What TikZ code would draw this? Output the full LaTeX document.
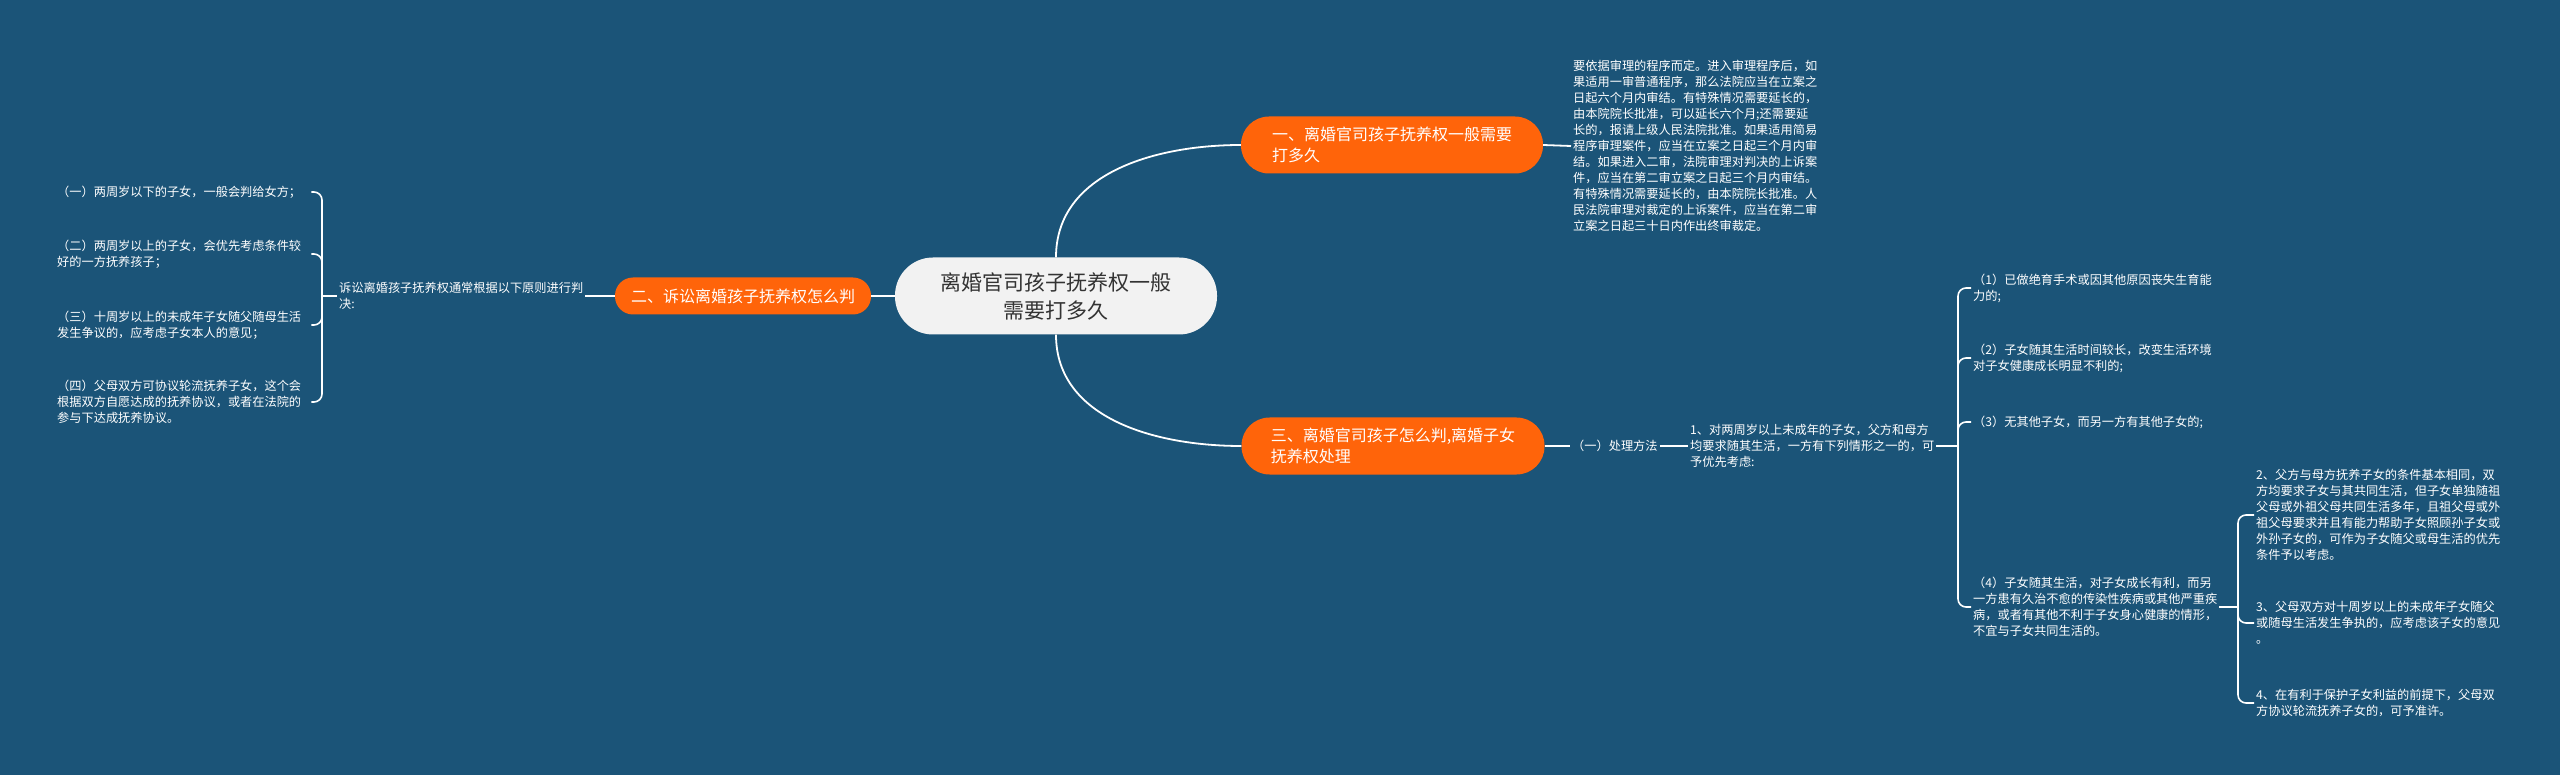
\documentclass[tikz,border=0pt]{standalone}
\usepackage{fontspec}
\setmainfont{Noto Sans CJK SC}
\definecolor{bgblue}{HTML}{1B5478}
\definecolor{mmorange}{HTML}{FF640A}
\definecolor{rootgrey}{HTML}{F2F2F2}
\definecolor{roottext}{HTML}{333333}
\begin{document}
\begin{tikzpicture}[x=1pt,y=-1pt,
    link/.style={draw=white,line width=1.8pt},
    brace/.style={draw=white,line width=1.6pt,rounded corners=8pt},
    rootnode/.style={fill=rootgrey,text=roottext,rounded corners=38pt,minimum width=322pt,minimum height=77pt,align=center,font=\fontsize{21}{28}\selectfont},
    topic/.style={fill=mmorange,text=white,rounded corners=28pt,minimum height=57pt,align=left,font=\fontsize{16}{21}\selectfont},
    leaf/.style={text=white,inner sep=2pt,align=left,font=\fontsize{12.2}{16}\selectfont},
  ]
  \fill[bgblue] (0,0) rectangle (2560,775);
  \useasboundingbox (0,0) rectangle (2560,775);
  %% centre
  \node[rootnode] (root) at (1056,296) {离婚官司孩子抚养权一般\\需要打多久};
  %% first topic
  \node[topic,minimum width=302pt] (b1) at (1392,145) {一、离婚官司孩子抚养权一般需要\\打多久};
  \node[leaf,anchor=west] (t1) at (1571,146) {要依据审理的程序而定。进入审理程序后，如\\果适用一审普通程序，那么法院应当在立案之\\日起六个月内审结。有特殊情况需要延长的，\\由本院院长批准，可以延长六个月;还需要延\\长的，报请上级人民法院批准。如果适用简易\\程序审理案件，应当在立案之日起三个月内审\\结。如果进入二审，法院审理对判决的上诉案\\件，应当在第二审立案之日起三个月内审结。\\有特殊情况需要延长的，由本院院长批准。人\\民法院审理对裁定的上诉案件，应当在第二审\\立案之日起三十日内作出终审裁定。};
  \draw[link] (root.north) to[out=90,in=180] (b1.west);
  \draw[link] (b1.east) -- (t1.west);
  %% second topic
  \node[topic,minimum width=256pt,minimum height=37pt,rounded corners=18pt] (b2) at (743,296) {二、诉讼离婚孩子抚养权怎么判};
  \node[leaf,anchor=west] (lroot) at (337,296) {诉讼离婚孩子抚养权通常根据以下原则进行判\\决:};
  \node[leaf,anchor=west,text width=252pt] (L1) at (55,192) {（一）两周岁以下的子女，一般会判给女方；};
  \node[leaf,anchor=west,text width=252pt] (L2) at (55,254) {（二）两周岁以上的子女，会优先考虑条件较\\好的一方抚养孩子；};
  \node[leaf,anchor=west,text width=252pt] (L3) at (55,325) {（三）十周岁以上的未成年子女随父随母生活\\发生争议的，应考虑子女本人的意见；};
  \node[leaf,anchor=west,text width=252pt] (L4) at (55,402) {（四）父母双方可协议轮流抚养子女，这个会\\根据双方自愿达成的抚养协议，或者在法院的\\参与下达成抚养协议。};
  \coordinate (lsp) at (322,296);
  \draw[link] (root.west) -- (b2.east);
  \draw[link] (b2.west) -- (lroot.east);
  \draw[link] (lroot.west) -- (lsp);
  \foreach \n in {L1,L2,L3,L4}
    \draw[brace] (lsp) |- (\n.east);
  %% third topic
  \node[topic,minimum width=303pt] (b3) at (1393,446) {三、离婚官司孩子怎么判,离婚子女\\抚养权处理};
  \node[leaf,anchor=west] (m1) at (1570,446) {（一）处理方法};
  \node[leaf,anchor=west] (m2) at (1688,446) {1、对两周岁以上未成年的子女，父方和母方\\均要求随其生活，一方有下列情形之一的，可\\予优先考虑:};
  \draw[link] (root.south) to[out=-90,in=180] (b3.west);
  \draw[link] (b3.east) -- (m1.west);
  \draw[link] (m1.east) -- (m2.west);
  \node[leaf,anchor=west] (R1) at (1971,288) {（1）已做绝育手术或因其他原因丧失生育能\\力的;};
  \node[leaf,anchor=west] (R2) at (1971,358) {（2）子女随其生活时间较长，改变生活环境\\对子女健康成长明显不利的;};
  \node[leaf,anchor=west] (R3) at (1971,422) {（3）无其他子女，而另一方有其他子女的;};
  \node[leaf,anchor=west] (R4) at (1971,607) {（4）子女随其生活，对子女成长有利，而另\\一方患有久治不愈的传染性疾病或其他严重疾\\病，或者有其他不利于子女身心健康的情形，\\不宜与子女共同生活的。};
  \coordinate (rsp) at (1958,446);
  \draw[link] (m2.east) -- (rsp);
  \foreach \n in {R1,R2,R3,R4}
    \draw[brace] (rsp) |- (\n.west);
  %% children of (4)
  \node[leaf,anchor=west] (S2) at (2254,515) {2、父方与母方抚养子女的条件基本相同，双\\方均要求子女与其共同生活，但子女单独随祖\\父母或外祖父母共同生活多年，且祖父母或外\\祖父母要求并且有能力帮助子女照顾孙子女或\\外孙子女的，可作为子女随父或母生活的优先\\条件予以考虑。};
  \node[leaf,anchor=west] (S3) at (2254,623) {3、父母双方对十周岁以上的未成年子女随父\\或随母生活发生争执的，应考虑该子女的意见\\。};
  \node[leaf,anchor=west] (S4) at (2254,703) {4、在有利于保护子女利益的前提下，父母双\\方协议轮流抚养子女的，可予准许。};
  \coordinate (ssp) at (2238,607);
  \draw[link] (R4.east) -- (ssp);
  \foreach \n in {S2,S3,S4}
    \draw[brace] (ssp) |- (\n.west);
\end{tikzpicture}
\end{document}
